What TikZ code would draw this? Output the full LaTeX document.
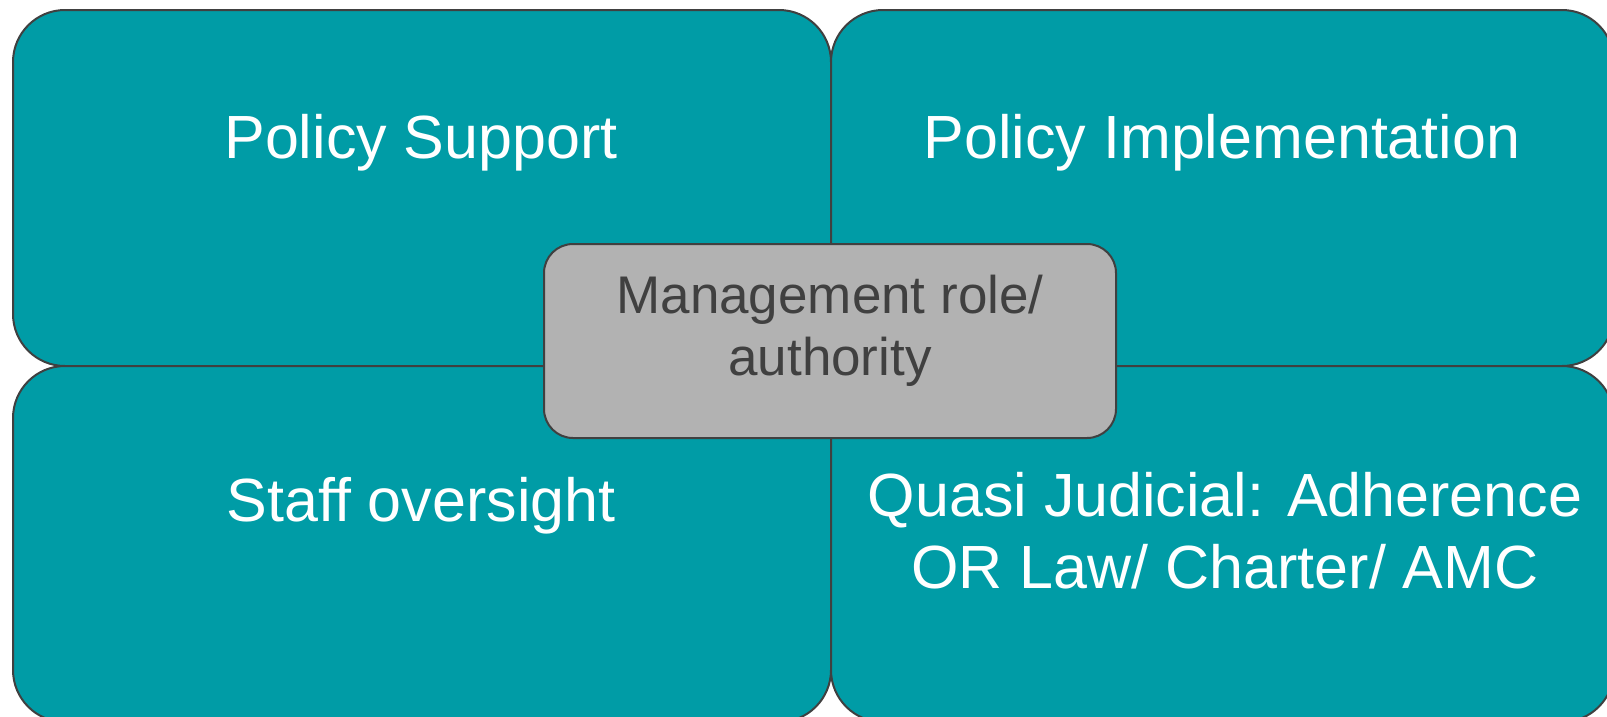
\documentclass[tikz,border=0pt]{standalone}
\usepackage{fontspec}
\setmainfont{Liberation Sans}
\definecolor{teal1}{HTML}{009CA6}
\definecolor{grayfill}{HTML}{B2B2B2}
\definecolor{edge}{HTML}{404040}
\begin{document}
\begin{tikzpicture}[x=1pt,y=-1pt,
  quad/.style={draw=edge,line width=2pt,fill=teal1,rounded corners=52pt},
  hub/.style={draw=edge,line width=2pt,fill=grayfill,rounded corners=29pt,
    minimum width=572pt,minimum height=194pt,inner sep=0pt},
  bigtext/.style={text=white,font=\fontsize{61pt}{72pt}\selectfont,inner sep=0pt,align=center},
  hubtext/.style={text=edge,font=\fontsize{53pt}{62pt}\selectfont,inner sep=0pt,align=center}]
\useasboundingbox (0,0) rectangle (1607,716);
\clip (0,0) rectangle (1607,716);
\node[quad,minimum width=818pt,minimum height=356pt,anchor=north west] (tl) at (12,9) {};
\node[quad,minimum width=783pt,minimum height=356pt,anchor=north west] (tr) at (830,9) {};
\node[quad,minimum width=818pt,minimum height=356pt,anchor=north west] (bl) at (12,365) {};
\node[quad,minimum width=783pt,minimum height=356pt,anchor=north west] (br) at (830,365) {};
\node[hub] (hub) at (830,341) {};
\node[bigtext,anchor=base] (t1) at (421,158) {Policy Support};
\node[bigtext,anchor=base] (t2) at (1222,158) {Policy Implementation};
\node[bigtext,anchor=base] (t3) at (421,521) {Staff oversight};
\node[bigtext,anchor=base] (t4) at (1225,588) {Quasi Judicial: Adherence\\OR Law/ Charter/ AMC};
\node[hubtext,anchor=base] (t5) at (830,375) {Management role/\\authority};
\end{tikzpicture}
\end{document}
